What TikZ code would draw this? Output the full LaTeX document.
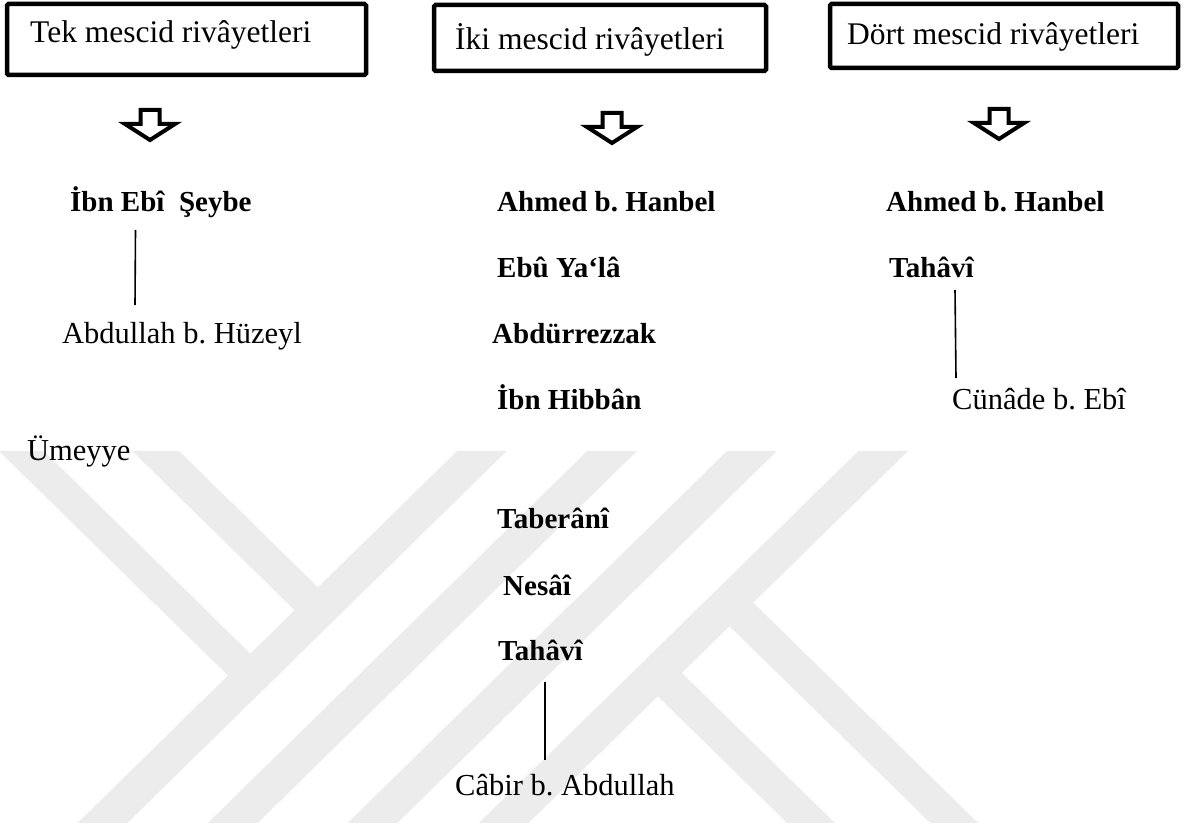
\documentclass[tikz,border=0pt]{standalone}
\usepackage{fontspec}
\setmainfont{Liberation Serif}
\frenchspacing
\definecolor{wm}{RGB}{236,236,236}
\tikzset{
  boxframe/.style={draw=black, line width=4.5pt, rounded corners=1.5pt, inner sep=0pt},
  hdr/.style={anchor=base west, inner sep=0pt, font=\fontsize{31.5}{38}\selectfont},
  nm/.style={anchor=base west, inner sep=0pt, font=\fontsize{29}{35}\selectfont\bfseries},
  rg/.style={anchor=base west, inner sep=0pt, font=\fontsize{30.5}{37}\selectfont},
  link/.style={draw=black, line width=1.6pt},
  blockarrow/.style={draw=black, line width=4pt, fill=white, miter limit=10},
  blkarr/.pic={\draw[blockarrow] (-9.5,0) -- (9.5,0) -- (9.5,14) -- (25,14) -- (0,30) -- (-25,14) -- (-9.5,14) -- cycle;},
  wmgray/.style={fill=wm, draw=none},
  wmwhite/.style={fill=white, draw=none}
}
\begin{document}
\begin{tikzpicture}[x=1pt, y=-1pt]
\useasboundingbox (0,0) rectangle (1198,826);
\fill[white] (0,0) rectangle (1198,826);

% ---- watermark ----
\begin{scope}
\clip (0,451) rectangle (1198,822);
% Y short arm
\fill[wmgray] (-53.04,400) -- (126.96,400)
  -- (intersection of 126.96,400--565.56,830 and 509.04,400--70.44,830)
  -- (intersection of -53.04,400--385.56,830 and 509.04,400--70.44,830) -- cycle;
\fill[wmwhite] (-8.04,400) -- (79.96,400)
  -- (intersection of 79.96,400--518.56,830 and 509.04,400--70.44,830)
  -- (intersection of -8.04,400--430.56,830 and 509.04,400--70.44,830) -- cycle;
% Y long stroke
\fill[wmgray] (509.04,400) -- (689.04,400) -- (250.44,830) -- (70.44,830) -- cycle;
\fill[wmwhite] (559.04,400) -- (639.04,400) -- (200.44,830) -- (120.44,830) -- cycle;
% K lower stroke
\fill[wmgray] (intersection of 546.6,400--985.2,830 and 960.04,400--521.44,830)
  -- (985.2,830) -- (794.2,830)
  -- (intersection of 355.6,400--794.2,830 and 960.04,400--521.44,830) -- cycle;
\fill[wmwhite] (intersection of 498.6,400--937.2,830 and 960.04,400--521.44,830)
  -- (937.2,830) -- (842.2,830)
  -- (intersection of 403.6,400--842.2,830 and 960.04,400--521.44,830) -- cycle;
% K long stroke
\fill[wmgray] (779.04,400) -- (960.04,400) -- (521.44,830) -- (340.44,830) -- cycle;
\fill[wmwhite] (829.04,400) -- (910.04,400) -- (471.44,830) -- (390.44,830) -- cycle;
\end{scope}

% ---- header boxes ----
\node[boxframe, minimum width=359pt, minimum height=71pt] (b1) at (186.5,39.5) {};
\node[boxframe, minimum width=332pt, minimum height=66pt] (b2) at (600,38) {};
\node[boxframe, minimum width=348pt, minimum height=64pt] (b3) at (1004,36) {};
\node[hdr] (t1) at (30,43) {Tek mescid rivâyetleri};
\node[hdr] (t2) at (455,50) {İki mescid rivâyetleri};
\node[hdr] (t3) at (847,45) {Dört mescid rivâyetleri};

% ---- block arrows ----
\pic at (150,110) {blkarr};
\pic at (612,113) {blkarr};
\pic at (999,109) {blkarr};

% ---- column 1 ----
\node[nm] (ies) at (70,212) {İbn Ebî~~Şeybe};
\node[rg] (abh) at (62,343) {Abdullah b. Hüzeyl};
\node[rg] (ume) at (27,460) {Ümeyye};
\coordinate (l1t) at (135.5,230);
\coordinate (l1b) at (135,305);
\draw[link] (l1t) -- (l1b);

% ---- column 2 ----
\node[nm] (ahm1) at (497,212) {Ahmed b. Hanbel};
\node[nm] (eby) at (497,277) {Ebû Ya‘lâ};
\node[nm] (abr) at (492,343) {Abdürrezzak};
\node[nm] (ihb) at (497,409) {İbn Hibbân};
\node[nm] (tab) at (497,528) {Taberânî};
\node[nm] (nes) at (503,595) {Nesâî};
\node[nm] (tah1) at (498,660) {Tahâvî};
\node[rg] (cab) at (455,795) {Câbir b. Abdullah};
\coordinate (l2t) at (545,682);
\coordinate (l2b) at (545,760);
\draw[link] (l2t) -- (l2b);

% ---- column 3 ----
\node[nm] (ahm2) at (886,212) {Ahmed b. Hanbel};
\node[nm] (tah2) at (889,277) {Tahâvî};
\node[rg] (cun) at (952,409) {Cünâde b. Ebî};
\coordinate (l3t) at (955,290);
\coordinate (l3b) at (956,378);
\draw[link] (l3t) -- (l3b);
\end{tikzpicture}
\end{document}
